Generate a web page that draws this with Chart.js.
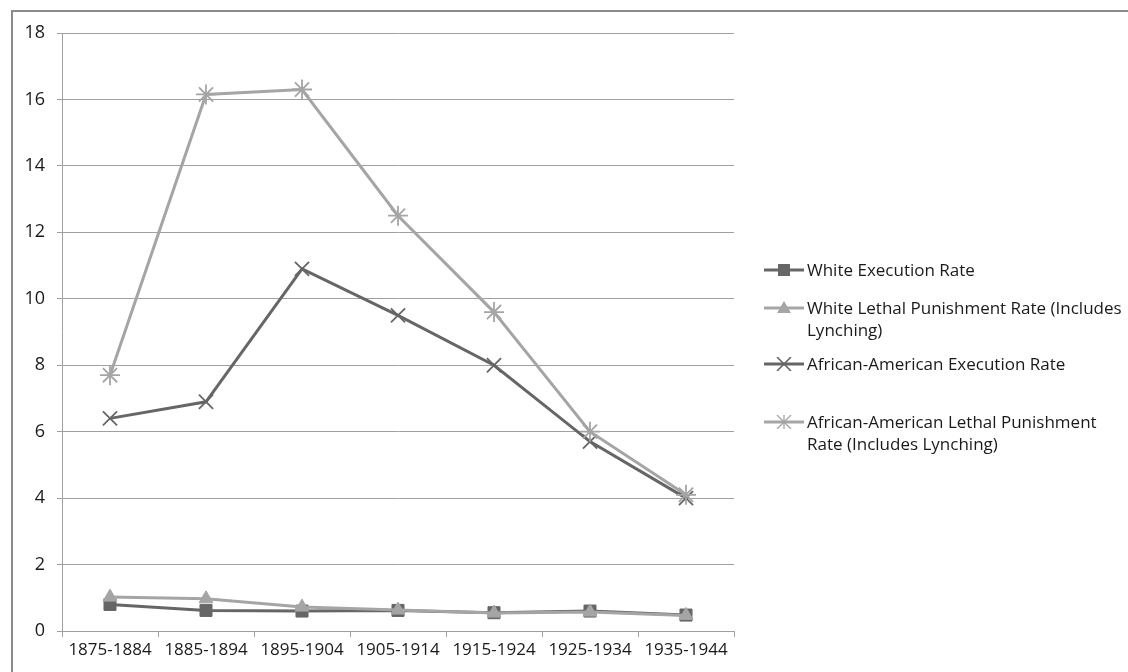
<!DOCTYPE html>
<html>
<head>
<meta charset="utf-8">
<script src="https://cdn.jsdelivr.net/npm/chart.js@4.4.1/dist/chart.umd.min.js"></script>
<style>
  body { margin: 0; background: #fff; }
  #wrap { position: relative; width: 1128px; height: 672px; overflow: hidden; }
  #frame { position: absolute; left: 11px; top: 10px; width: 1200px; height: 700px;
           border-top: 2px solid #8a8a8a; border-left: 2px solid #8a8a8a; }
  #legend { position: absolute; left: 764px; top: 0; font-family: "Open Sans", sans-serif;
            font-size: 17px; color: #1a1a1a; }
  .item { position: absolute; left: 0; width: 380px; display: flex; align-items: flex-start; }
  .item svg { flex: none; margin-top: 4px; }
  .item span { line-height: 22px; margin-left: 3px; white-space: nowrap; }
</style>
</head>
<body>
<div id="wrap">
  <div id="frame"></div>
  <canvas id="chart" width="1128" height="672"></canvas>
  <div id="legend"></div>
</div>
<script>
const periods = ["1875-1884", "1885-1894", "1895-1904", "1905-1914", "1915-1924", "1925-1934", "1935-1944"];
const whiteExecution = [0.8, 0.62, 0.6, 0.62, 0.55, 0.6, 0.48];
const whiteLethal = [1.02, 0.97, 0.72, 0.63, 0.54, 0.57, 0.47];
const blackExecution = [6.4, 6.9, 10.9, 9.5, 8.0, 5.7, 4.0];
const blackLethal = [7.7, 16.15, 16.3, 12.5, 9.6, 6.0, 4.1];
const yTicks = [0, 2, 4, 6, 8, 10, 12, 14, 16, 18];

const DARK = "#666666";
const LIGHT = "#a5a5a5";
const xFont = { family: "'Open Sans', sans-serif", size: 17 };
const yFont = { family: "'Open Sans', sans-serif", size: 18 };

const seriesInfo = [
  { label: "White Execution Rate", data: whiteExecution, color: DARK, style: "rect", radius: 8.5, top: 259 },
  { label: "White Lethal Punishment Rate (Includes Lynching)", data: whiteLethal, color: LIGHT, style: "triangle", radius: 8, top: 297 },
  { label: "African-American Execution Rate", data: blackExecution, color: DARK, style: "crossRot", radius: 10, top: 353 },
  { label: "African-American Lethal Punishment Rate (Includes Lynching)", data: blackLethal, color: LIGHT, style: "star", radius: 10, top: 411 }
];

const datasets = seriesInfo.map((s, i) => ({
  label: s.label,
  data: s.data,
  borderColor: s.color,
  backgroundColor: s.color,
  borderWidth: 3,
  pointStyle: s.style,
  pointRadius: s.radius,
  pointBorderWidth: s.style === "crossRot" || s.style === "star" ? 1.8 : 1,
  pointBorderColor: s.color,
  pointBackgroundColor: s.color,
  tension: 0,
  order: 4 - i
}));

new Chart(document.getElementById("chart"), {
  type: "line",
  data: { labels: periods, datasets: datasets },
  options: {
    responsive: false,
    animation: false,
    layout: { padding: { top: 33, right: 394, left: 0, bottom: 0 } },
    plugins: { legend: { display: false }, tooltip: { enabled: false } },
    scales: {
      x: {
        offset: true,
        grid: { offset: true, drawOnChartArea: false, tickLength: 6, color: "#a0a0a0", lineWidth: 1 },
        border: { color: "#a0a0a0", width: 1 },
        ticks: { font: xFont, color: "#1a1a1a", padding: 3, maxRotation: 0 },
        afterFit: scale => { scale.height = 41; }
      },
      y: {
        min: 0,
        max: 18,
        afterBuildTicks: scale => { scale.ticks = yTicks.map(v => ({ value: v })); },
        grid: { color: "#a0a0a0", lineWidth: 1, tickLength: 5 },
        border: { color: "#a0a0a0", width: 1 },
        ticks: { font: yFont, color: "#1a1a1a", padding: 12 },
        afterFit: scale => { scale.width = 62; }
      }
    }
  }
});

// legend on the right
function iconSvg(s) {
  let mark = "";
  const c = s.color;
  if (s.style === "rect") mark = `<rect x="14" y="1" width="12" height="12" fill="${c}"/>`;
  if (s.style === "triangle") mark = `<polygon points="20,0 27,12 13,12" fill="${c}"/>`;
  if (s.style === "crossRot") mark = `<path d="M13 0 L27 14 M27 0 L13 14" stroke="${c}" stroke-width="1.6"/>`;
  if (s.style === "star") mark = `<path d="M13 0 L27 14 M27 0 L13 14 M20 -1 L20 15 M12 7 L28 7" stroke="${c}" stroke-width="1.3"/>`;
  return `<svg width="40" height="14" viewBox="0 0 40 14"><line x1="0" y1="7" x2="40" y2="7" stroke="${c}" stroke-width="3"/>${mark}</svg>`;
}

const legend = document.getElementById("legend");
const legendText = [
  "White Execution Rate",
  "White Lethal Punishment Rate (Includes<br>Lynching)",
  "African-American Execution Rate",
  "African-American Lethal Punishment<br>Rate (Includes Lynching)"
];
seriesInfo.forEach((s, i) => {
  const row = document.createElement("div");
  row.className = "item";
  row.style.top = s.top + "px";
  row.innerHTML = iconSvg(s) + `<span>${legendText[i]}</span>`;
  legend.appendChild(row);
});
</script>
</body>
</html>
